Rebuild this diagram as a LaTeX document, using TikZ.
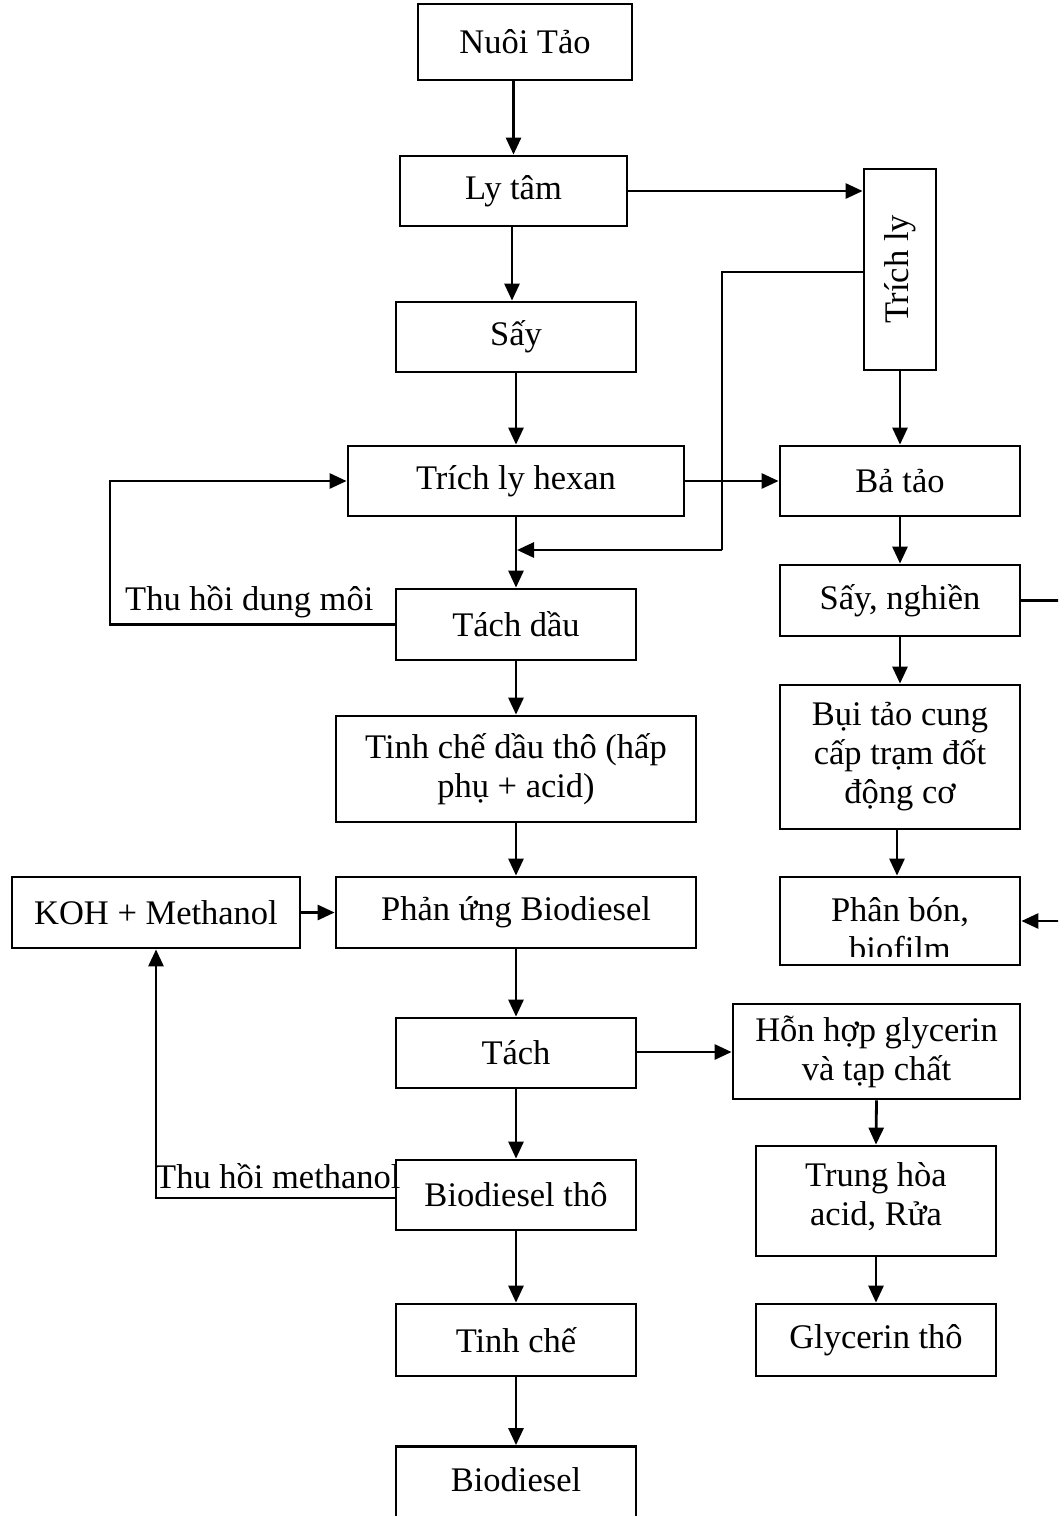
\documentclass[tikz,border=0pt]{standalone}
\usepackage{fontspec}
\setmainfont{Liberation Serif}
\usetikzlibrary{arrows.meta}
\begin{document}
\begin{tikzpicture}[x=1pt,y=-1pt,
  box/.style={draw, line width=2.8pt, inner sep=0pt, align=center, font=\fontsize{34.5pt}{39pt}\selectfont},
  txt/.style={inner sep=0pt, font=\fontsize{34.5pt}{39pt}\selectfont},
  con/.style={line width=2.8pt},
  arr/.style={line width=2.8pt, -{Triangle[length=17pt,width=15pt]}}]
\useasboundingbox (0,0) rectangle (1058,1516);
\clip (0,0) rectangle (1058,1516);
% left column
\node[box, minimum width=214pt, minimum height=76pt] (nuoi) at (525,42) {Nuôi Tảo};
\node[box, minimum width=227pt, minimum height=70pt] (lytam) at (513.5,191) {Ly tâm};
\node[box, minimum width=240pt, minimum height=70pt] (say) at (516,337) {Sấy};
\node[box, minimum width=336pt, minimum height=70pt] (hexan) at (516,481) {Trích ly hexan};
\node[box, minimum width=240pt, minimum height=71pt] (tachdau) at (516,624.5) {Tách dầu};
\node[box, minimum width=360pt, minimum height=106pt] (tinhche1) at (516,769) {Tinh chế dầu thô (hấp\\phụ + acid)};
\node[box, minimum width=288pt, minimum height=71pt] (koh) at (156,912.5) {KOH + Methanol};
\node[box, minimum width=360pt, minimum height=71pt] (phanung) at (516,912.5) {Phản ứng Biodiesel};
\node[box, minimum width=240pt, minimum height=70pt] (tach) at (516,1053) {Tách};
\node[box, minimum width=240pt, minimum height=70pt] (bdtho) at (516,1195) {Biodiesel thô};
\node[box, minimum width=240pt, minimum height=72pt] (tinhche) at (516,1340) {Tinh chế};
\node[box, minimum width=240pt, minimum height=73pt] (biodiesel) at (516,1483) {};
\node[txt] (biodieseltxt) at (516,1480) {Biodiesel};
% right column
\node[box, minimum width=72pt, minimum height=201pt] (trichly) at (900,269.5) {\rotatebox{90}{Trích ly}};
\node[box, minimum width=240pt, minimum height=70pt] (batao) at (900,481) {Bả tảo};
\node[box, minimum width=240pt, minimum height=71pt] (saynghien) at (900,600.5) {Sấy, nghiền};
\node[box, minimum width=240pt, minimum height=144pt] (buitao) at (900,757) {Bụi tảo cung\\cấp trạm đốt\\động cơ};
\node[box, minimum width=240pt, minimum height=88pt] (phanbon) at (900,921) {};
\begin{scope}
\clip (782,879) rectangle (1018,956);
\node[txt, anchor=base] (pb1) at (900,921) {Phân bón,};
\node[txt, anchor=base] (pb2) at (900,960) {biofilm};
\end{scope}
\node[box, minimum width=287pt, minimum height=95pt] (honhop) at (876.5,1051.5) {Hỗn hợp glycerin\\và tạp chất};
\node[box, minimum width=240pt, minimum height=110pt] (trunghoa) at (876,1201) {};
\node[txt, align=center] (thtxt) at (876,1197) {Trung hòa\\acid, Rửa};
\node[box, minimum width=240pt, minimum height=72pt] (glycerin) at (876,1340) {Glycerin thô};
% labels
\node[txt, anchor=west] (lbl1) at (125,602) {Thu hồi dung môi};
\node[txt, anchor=west] (lbl2) at (155,1176) {Thu hồi methanol};
% coordinates
\coordinate (j1) at (516,550);
\coordinate (r1) at (1075,600.5);
% connectors
\draw[arr] (lytam.north |- nuoi.south) -- (lytam.north);
\draw[arr] (lytam.east) -- (lytam.east -| trichly.west);
\draw[arr] (lytam.south -| 512,0) -- (say.north -| 512,0);
\draw[arr] (say.south) -- (hexan.north);
\draw[arr] (trichly.south) -- (batao.north);
\draw[con] (trichly.west |- 0,272) -- (722,272) -- (722,550);
\draw[arr] (722,550) -- ([xshift=1pt]j1);
\draw[arr] (hexan.east) -- (batao.west);
\draw[arr] (hexan.south) -- (tachdau.north);
\draw[arr] (tachdau.west) -- (110,624.5) |- (hexan.west);
\draw[arr] (batao.south) -- (saynghien.north);
\draw[con] (saynghien.east) -- (r1);
\draw[arr] (r1) |- (phanbon.east);
\draw[arr] (saynghien.south) -- (buitao.north);
\draw[arr] (buitao.south -| 897,0) -- (phanbon.north -| 897,0);
\draw[arr] (tachdau.south) -- (tinhche1.north);
\draw[arr] (tinhche1.south) -- (phanung.north);
\draw[arr] (koh.east) -- (phanung.west);
\draw[arr] (phanung.south) -- (tach.north);
\draw[arr] (tach.east |- 0,1052) -- (honhop.west |- 0,1052);
\draw[arr] (tach.south) -- (bdtho.north);
\draw[arr] (bdtho.west |- 0,1198) -| (koh.south);
\draw[arr] (bdtho.south) -- (tinhche.north);
\draw[arr] (tinhche.south) -- (biodiesel.north);
\draw[arr] (honhop.south) -- (trunghoa.north);
\draw[arr] (trunghoa.south) -- (glycerin.north);
\end{tikzpicture}
\end{document}
